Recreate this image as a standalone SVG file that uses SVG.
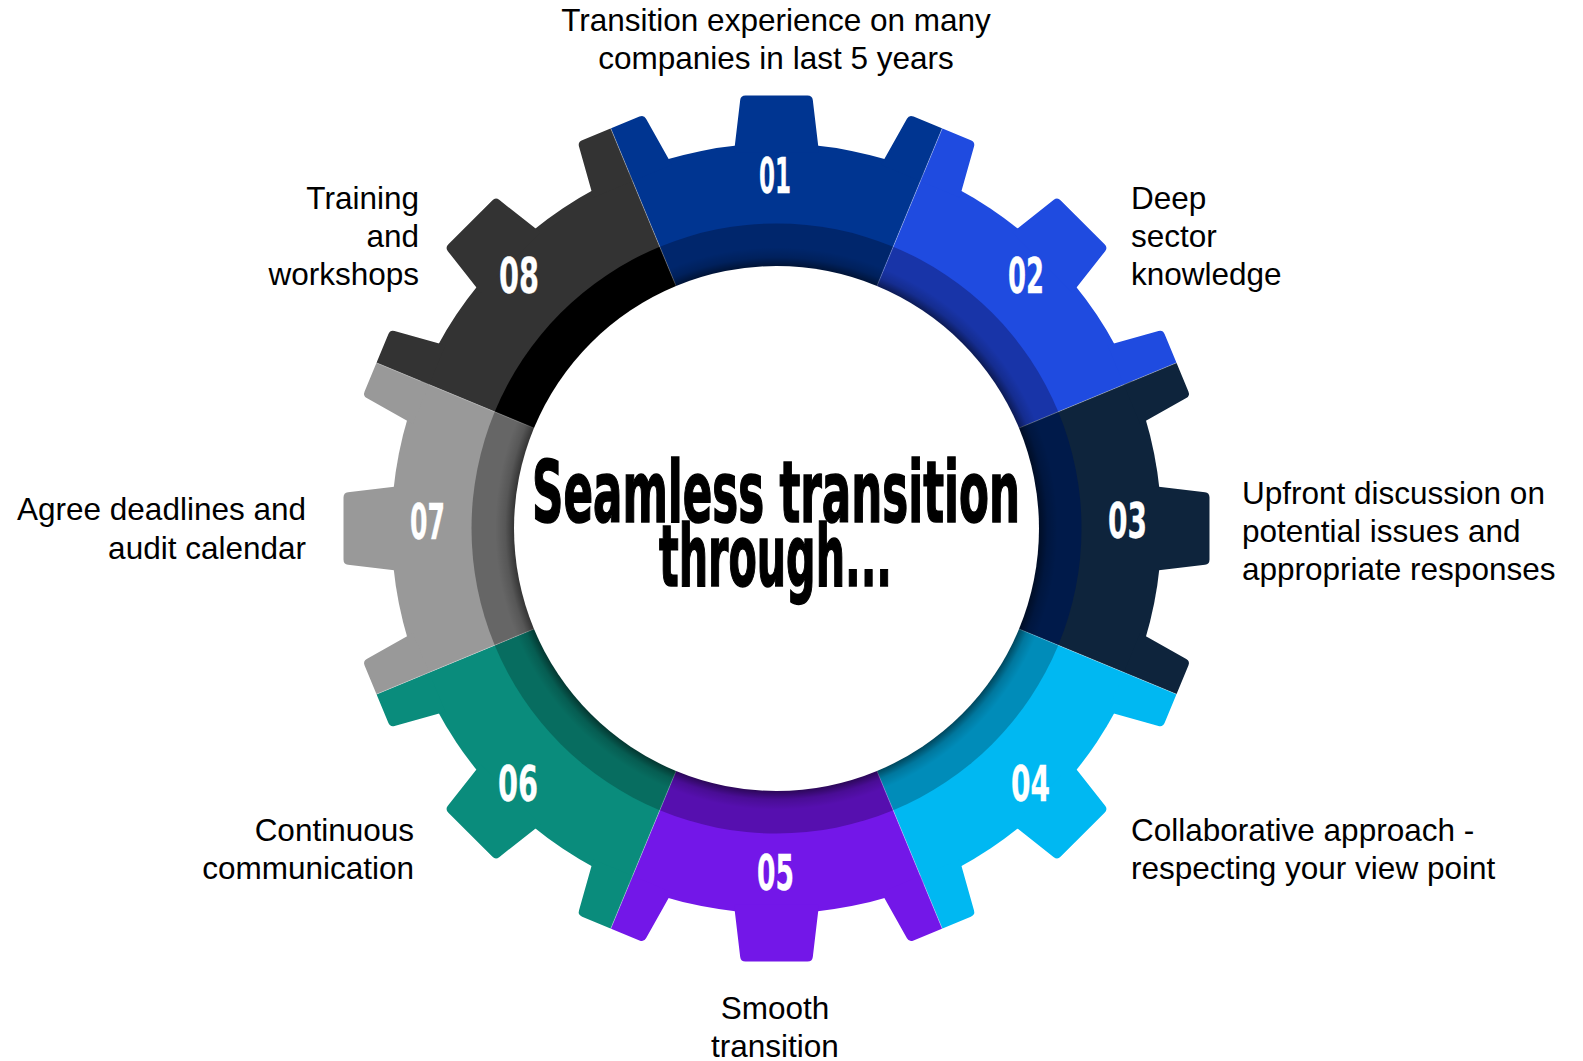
<svg xmlns="http://www.w3.org/2000/svg" xmlns:xlink="http://www.w3.org/1999/xlink" width="1583" height="1061" viewBox="0 0 1583 1061">
<style>
.lbl{font-family:"Liberation Sans",Arial,sans-serif;font-size:31.5px;fill:#000}
.num{font-family:"Liberation Sans Narrow","DejaVu Sans Condensed","Liberation Sans",sans-serif;font-weight:bold;font-size:50px;fill:#fff;stroke:#fff;stroke-width:0.3}
.title{font-family:"Liberation Sans Narrow","DejaVu Sans Condensed","Liberation Sans",sans-serif;font-weight:bold;font-size:86px;fill:#000;stroke:#000;stroke-width:1.6}
.seam{stroke:#ffffff;stroke-opacity:0.35;stroke-width:0.8}
</style>
<defs>
  <clipPath id="wedge"><polygon points="0,0 -248.5,-600 248.5,-600"/></clipPath>
  <path id="tooth" d="M-42.5,-376 L-36.3,-428.5 Q-35.8,-433 -31,-433 L31,-433 Q35.8,-433 36.3,-428.5 L42.5,-376 Z"/>
  <g id="gearpart">
    <circle r="385"/>
    <use xlink:href="#tooth" href="#tooth"/>
    <use xlink:href="#tooth" href="#tooth" transform="rotate(-22.5)"/>
    <use xlink:href="#tooth" href="#tooth" transform="rotate(22.5)"/>
  </g>
  <radialGradient id="shadow" gradientUnits="userSpaceOnUse" cx="0" cy="0" r="290">
    <stop offset="0.9" stop-color="#000" stop-opacity="0.55"/>
    <stop offset="0.935" stop-color="#000" stop-opacity="0.15"/>
    <stop offset="0.97" stop-color="#000" stop-opacity="0"/>
    <stop offset="1" stop-color="#000" stop-opacity="0"/>
  </radialGradient>
</defs>
<rect width="1583" height="1061" fill="#fff"/>

<g id="node-01">
  <g transform="translate(776.5,528.5) rotate(0)"><g clip-path="url(#wedge)"><use xlink:href="#gearpart" href="#gearpart" fill="#003591"/><circle r="305" fill="#00266c"/></g></g>
  <text class="num" x="759" y="193" textLength="32" lengthAdjust="spacingAndGlyphs">01</text>
  <text class="lbl" text-anchor="middle"><tspan x="776" y="31">Transition experience on many</tspan><tspan x="776" y="69">companies in last 5 years</tspan></text>
</g>
<g id="node-02">
  <g transform="translate(776.5,528.5) rotate(45)"><g clip-path="url(#wedge)"><use xlink:href="#gearpart" href="#gearpart" fill="#1f4be0"/><circle r="305" fill="#1834a8"/></g></g>
  <text class="num" x="1008" y="293" textLength="36" lengthAdjust="spacingAndGlyphs">02</text>
  <text class="lbl"><tspan x="1131" y="209">Deep</tspan><tspan x="1131" y="247">sector</tspan><tspan x="1131" y="285">knowledge</tspan></text>
</g>
<g id="node-03">
  <g transform="translate(776.5,528.5) rotate(90)"><g clip-path="url(#wedge)"><use xlink:href="#gearpart" href="#gearpart" fill="#0e243c"/><circle r="305" fill="#001a4a"/></g></g>
  <text class="num" x="1108" y="538" textLength="39" lengthAdjust="spacingAndGlyphs">03</text>
  <text class="lbl"><tspan x="1242" y="504">Upfront discussion on</tspan><tspan x="1242" y="542">potential issues and</tspan><tspan x="1242" y="580">appropriate responses</tspan></text>
</g>
<g id="node-04">
  <g transform="translate(776.5,528.5) rotate(135)"><g clip-path="url(#wedge)"><use xlink:href="#gearpart" href="#gearpart" fill="#00b8f2"/><circle r="305" fill="#008cb9"/></g></g>
  <text class="num" x="1011" y="801" textLength="39" lengthAdjust="spacingAndGlyphs">04</text>
  <text class="lbl"><tspan x="1131" y="841">Collaborative approach -</tspan><tspan x="1131" y="879">respecting your view point</tspan></text>
</g>
<g id="node-05">
  <g transform="translate(776.5,528.5) rotate(180)"><g clip-path="url(#wedge)"><use xlink:href="#gearpart" href="#gearpart" fill="#7317e8"/><circle r="305" fill="#560faf"/></g></g>
  <text class="num" x="757" y="890" textLength="37" lengthAdjust="spacingAndGlyphs">05</text>
  <text class="lbl" text-anchor="middle"><tspan x="775" y="1019">Smooth</tspan><tspan x="775" y="1057">transition</tspan></text>
</g>
<g id="node-06">
  <g transform="translate(776.5,528.5) rotate(225)"><g clip-path="url(#wedge)"><use xlink:href="#gearpart" href="#gearpart" fill="#0a8c7c"/><circle r="305" fill="#076d60"/></g></g>
  <text class="num" x="498" y="801" textLength="40" lengthAdjust="spacingAndGlyphs">06</text>
  <text class="lbl" text-anchor="end"><tspan x="414" y="841">Continuous</tspan><tspan x="414" y="879">communication</tspan></text>
</g>
<g id="node-07">
  <g transform="translate(776.5,528.5) rotate(270)"><g clip-path="url(#wedge)"><use xlink:href="#gearpart" href="#gearpart" fill="#999999"/><circle r="305" fill="#666666"/></g></g>
  <text class="num" x="410" y="539" textLength="35" lengthAdjust="spacingAndGlyphs">07</text>
  <text class="lbl" text-anchor="end"><tspan x="306" y="520">Agree deadlines and</tspan><tspan x="306" y="559">audit calendar</tspan></text>
</g>
<g id="node-08">
  <g transform="translate(776.5,528.5) rotate(315)"><g clip-path="url(#wedge)"><use xlink:href="#gearpart" href="#gearpart" fill="#333333"/><circle r="305" fill="#000000"/></g></g>
  <text class="num" x="499" y="293" textLength="40" lengthAdjust="spacingAndGlyphs">08</text>
  <text class="lbl" text-anchor="end"><tspan x="419" y="209">Training</tspan><tspan x="419" y="247">and</tspan><tspan x="419" y="285">workshops</tspan></text>
</g>

<g id="seams" transform="translate(776.5,528.5)">
  <line class="seam" x1="0" y1="-262" x2="0" y2="-440" transform="rotate(22.5)"/>
  <line class="seam" x1="0" y1="-262" x2="0" y2="-440" transform="rotate(67.5)"/>
  <line class="seam" x1="0" y1="-262" x2="0" y2="-440" transform="rotate(112.5)"/>
  <line class="seam" x1="0" y1="-262" x2="0" y2="-440" transform="rotate(157.5)"/>
  <line class="seam" x1="0" y1="-262" x2="0" y2="-440" transform="rotate(202.5)"/>
  <line class="seam" x1="0" y1="-262" x2="0" y2="-440" transform="rotate(247.5)"/>
  <line class="seam" x1="0" y1="-262" x2="0" y2="-440" transform="rotate(292.5)"/>
  <line class="seam" x1="0" y1="-262" x2="0" y2="-440" transform="rotate(337.5)"/>
</g>

<g id="center">
  <g transform="translate(776.5,528.5)">
    <circle r="290" fill="url(#shadow)"/>
    <circle r="262.5" fill="#ffffff"/>
  </g>
  <text class="title" x="532" y="522" textLength="488" lengthAdjust="spacingAndGlyphs">Seamless transition</text>
  <text class="title" x="659" y="586" textLength="233" lengthAdjust="spacingAndGlyphs">through...</text>
</g>
</svg>
